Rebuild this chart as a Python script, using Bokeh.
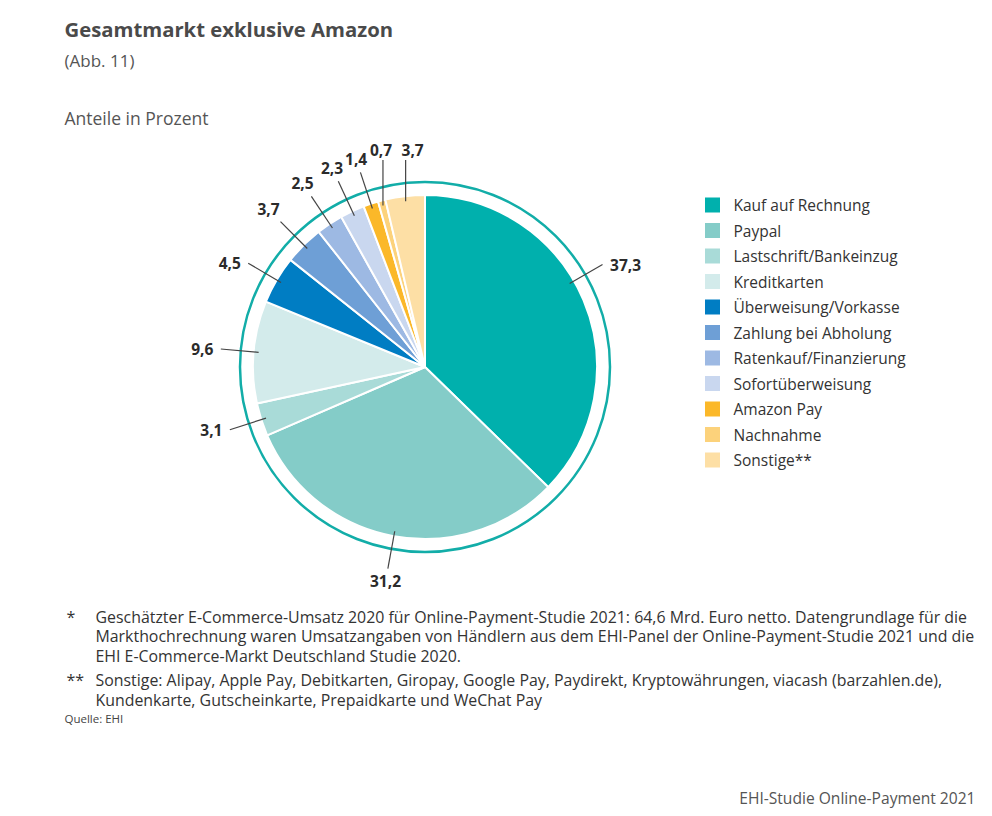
import numpy as np
from bokeh.plotting import figure
from bokeh.models import Range1d
from bokeh.core.properties import value
from bokeh.embed import file_html
from bokeh.resources import INLINE

# ---------------- data ----------------
categories = ["Kauf auf Rechnung", "Paypal", "Lastschrift/Bankeinzug", "Kreditkarten",
              "Überweisung/Vorkasse", "Zahlung bei Abholung", "Ratenkauf/Finanzierung",
              "Sofortüberweisung", "Amazon Pay", "Nachnahme", "Sonstige**"]
shares = [37.3, 31.2, 3.1, 9.6, 4.5, 3.7, 2.5, 2.3, 1.4, 0.7, 3.7]
colors = ["#00B0AD", "#84CCC8", "#A9DBD8", "#D3EBEB", "#007DC3", "#6E9FD6",
          "#9DB9E3", "#C9D7EF", "#FBB829", "#FCD27B", "#FDDFA5"]

title = "Gesamtmarkt exklusive Amazon"
subtitle = "(Abb. 11)"
unit_note = "Anteile in Prozent"
footnote_marks = ["*", "**"]
footnotes = [
    ["Geschätzter E-Commerce-Umsatz 2020 für Online-Payment-Studie 2021: 64,6 Mrd. Euro netto. Datengrundlage für die",
     "Markthochrechnung waren Umsatzangaben von Händlern aus dem EHI-Panel der Online-Payment-Studie 2021 und die",
     "EHI E-Commerce-Markt Deutschland Studie 2020."],
    ["Sonstige: Alipay, Apple Pay, Debitkarten, Giropay, Google Pay, Paydirekt, Kryptowährungen, viacash (barzahlen.de),",
     "Kundenkarte, Gutscheinkarte, Prepaidkarte und WeChat Pay"],
]
source = "Quelle: EHI"
footer = "EHI-Studie Online-Payment 2021"

# ---------------- layout ----------------
W, H = 992, 816
FONT = value("Open Sans")


def Y(top):  # convert top-based pixel position to data y
    return H - top


CX, CY = 424.5, Y(366.5)
R = 172
RING = 185
R_IN, R_OUT = 167, 205

p = figure(width=W, height=H, x_range=Range1d(0, W), y_range=Range1d(0, H),
           output_backend="svg", toolbar_location=None, min_border=0,
           x_axis_location=None, y_axis_location=None)
p.grid.visible = False
p.outline_line_color = None
p.background_fill_color = "white"
p.border_fill_color = "white"

vals = np.array(shares)
cum = np.cumsum(vals)
start_deg = 90 - cum * 3.6
end_deg = 90 - (cum - vals) * 3.6
mid_deg = 90 - (cum - vals / 2) * 3.6

p.wedge(x=CX, y=CY, radius=R, start_angle=np.radians(start_deg), end_angle=np.radians(end_deg),
        fill_color=colors, line_color="white", line_width=2)
p.circle(x=[CX], y=[CY], radius=RING, fill_color=None, line_color="#12ADA8", line_width=2.5)

# leader lines and value labels
lead_deg = mid_deg.copy()
lead_deg[0] = 30.0  # leader of the largest slice is tilted towards the label
vertical = [False] * len(vals)
vertical[-1] = vertical[-2] = True
nudge_x = [0] * len(vals)
nudge_x[-1] = 7
nudge_x[-2] = -2

xs0, ys0, xs1, ys1, lx, ly, labels = [], [], [], [], [], [], []
for i, v in enumerate(vals):
    lab = f"{v:.1f}".replace(".", ",")
    a = np.radians(lead_deg[i])
    sx, sy = CX + R_IN * np.cos(a), CY + R_IN * np.sin(a)
    if vertical[i]:
        ex, ey = sx, CY + 207
        dx, dy = 0.0, 1.0
    else:
        ex, ey = CX + R_OUT * np.cos(a), CY + R_OUT * np.sin(a)
        dx, dy = np.cos(a), np.sin(a)
    w = 9 * len(lab) - 2
    h = 12
    if abs(dx) > 0.85:
        off = w / 2 + 6
        tx, ty = ex + np.sign(dx) * off, ey
    else:
        off = w / 2 * abs(dx) + h / 2 * abs(dy) + 4
        tx, ty = ex + dx * off, ey + dy * off
    xs0.append(sx); ys0.append(sy); xs1.append(ex); ys1.append(ey)
    lx.append(tx + nudge_x[i]); ly.append(ty); labels.append(lab)

p.segment(x0=xs0, y0=ys0, x1=xs1, y1=ys1, line_color="#444444", line_width=1.2)
p.text(x=lx, y=ly, text=labels, text_font=FONT, text_font_style="bold", text_font_size="15.5px",
       text_color="#2B2B2B", text_align="center", text_baseline="middle")

# legend
LEG_X, LEG_Y0, LEG_DY = 712, 204.5, 25.5
leg_y = [Y(LEG_Y0 + i * LEG_DY) for i in range(len(categories))]
p.scatter(x=[LEG_X] * len(categories), y=leg_y, marker="square", size=15,
          fill_color=colors, line_color=None)
p.text(x=[LEG_X + 21] * len(categories), y=leg_y, text=categories, text_font=FONT,
       text_font_size="15.5px", text_color="#333333", text_align="left", text_baseline="middle")

# titles
p.text(x=[64], y=[Y(28)], text=[title], text_font=FONT, text_font_style="bold",
       text_font_size="20.3px", text_color="#4A4A4A", text_baseline="middle")
p.text(x=[64], y=[Y(60)], text=[subtitle], text_font=FONT, text_font_size="17px",
       text_color="#555555", text_baseline="middle")
p.text(x=[64], y=[Y(117)], text=[unit_note], text_font=FONT, text_font_size="17.5px",
       text_color="#555555", text_baseline="middle")

# footnotes
fn_tops = [[616, 635, 655], [679, 699]]
for mark, lines, tops in zip(footnote_marks, footnotes, fn_tops):
    p.text(x=[66], y=[Y(tops[0])], text=[mark], text_font=FONT, text_font_size="16px",
           text_color="#333333", text_baseline="middle")
    p.text(x=[95] * len(lines), y=[Y(t) for t in tops], text=lines, text_font=FONT,
           text_font_size="15.9px", text_color="#333333", text_baseline="middle")
p.text(x=[64], y=[Y(718)], text=[source], text_font=FONT, text_font_size="11.5px",
       text_color="#444444", text_baseline="middle")
p.text(x=[975], y=[Y(797)], text=[footer], text_font=FONT, text_font_size="15.6px",
       text_color="#555555", text_align="right", text_baseline="middle")

open("out.html", "w").write(file_html(p, INLINE))
